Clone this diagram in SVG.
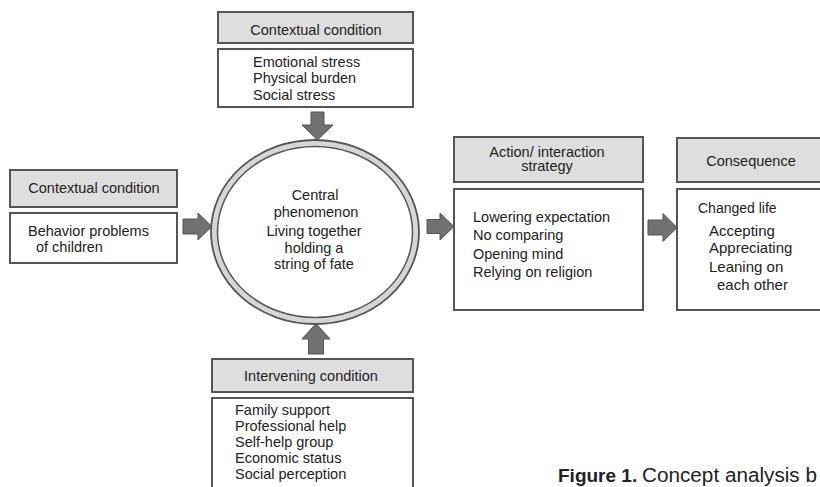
<svg xmlns="http://www.w3.org/2000/svg" width="820" height="487" viewBox="0 0 820 487">
<style>
text{font-family:"Liberation Sans",Arial,sans-serif;font-size:14.5px;fill:#222}
.c{text-anchor:middle}
.hd{fill:#dedede;stroke:#555;stroke-width:2}
.bd{fill:#fff;stroke:#555;stroke-width:2}
.ar{fill:#717171;stroke:#555;stroke-width:1}
</style>
<rect width="820" height="487" fill="#fff"/>
<g id="connectors">
<path class="ar" d="M311,112 H324 V125 H333 L317.5,140 L302,125 H311 Z"/>
<path class="ar" d="M183,219 H198 V213 L212,226.5 L198,240 V234 H183 Z"/>
<path class="ar" d="M427,219.5 H440 V213 L454,226.5 L440,240 V233.5 H427 Z"/>
<path class="ar" d="M648,220 H663 V213.5 L677,227.5 L663,241.5 V235 H648 Z"/>
<path class="ar" d="M308.5,354 H323.5 V339 H330 L316,323.5 L302,339 H308.5 Z"/>
</g>
<g id="top-context">
<rect class="hd" x="218" y="12" width="195" height="31"/>
<text class="c" x="316" y="35">Contextual condition</text>
<rect class="bd" x="218" y="49" width="195" height="58"/>
<text x="253" y="67">Emotional stress</text>
<text x="253" y="83">Physical burden</text>
<text x="253" y="100">Social stress</text>
</g>
<g id="left-context">
<rect class="hd" x="10" y="170" width="167" height="37"/>
<text class="c" x="94" y="193">Contextual condition</text>
<rect class="bd" x="10" y="213" width="167" height="50"/>
<text x="28" y="236">Behavior problems</text>
<text x="36" y="252">of children</text>
</g>
<g id="central">
<ellipse cx="315" cy="232" rx="104" ry="92" fill="#d6d6d6" stroke="#555" stroke-width="1.8"/>
<ellipse cx="315" cy="232" rx="97.5" ry="85.5" fill="#fff" stroke="#555" stroke-width="1.5"/>
<text class="c" x="315" y="200">Central</text>
<text class="c" x="316" y="216.5">phenomenon</text>
<text class="c" x="314" y="236">Living together</text>
<text class="c" x="314" y="252.5">holding a</text>
<text class="c" x="314" y="269">string of fate</text>
</g>
<g id="action">
<rect class="hd" x="454" y="137" width="189" height="45"/>
<text class="c" x="547" y="156.5">Action/ interaction</text>
<text class="c" x="547" y="171">strategy</text>
<rect class="bd" x="454" y="189" width="189" height="121"/>
<text x="473" y="222">Lowering expectation</text>
<text x="473" y="240">No comparing</text>
<text x="473" y="259">Opening mind</text>
<text x="473" y="277">Relying on religion</text>
</g>
<g id="consequence">
<rect class="hd" x="677" y="138" width="160" height="44"/>
<text class="c" x="751" y="166">Consequence</text>
<rect class="bd" x="677" y="189" width="160" height="121"/>
<text x="698" y="213" style="font-size:14px">Changed life</text>
<text x="709" y="236" style="font-size:15px">Accepting</text>
<text x="709" y="253" style="font-size:15px">Appreciating</text>
<text x="709" y="271.5" style="font-size:15px">Leaning on</text>
<text x="717" y="290" style="font-size:15px">each other</text>
</g>
<g id="intervening">
<rect class="hd" x="212" y="359" width="201" height="33"/>
<text class="c" x="311" y="381">Intervening condition</text>
<rect class="bd" x="212" y="398" width="201" height="100"/>
<text x="235" y="415">Family support</text>
<text x="235" y="431">Professional help</text>
<text x="235" y="447">Self-help group</text>
<text x="235" y="463">Economic status</text>
<text x="235" y="478.5">Social perception</text>
</g>
<g id="caption">
<text x="558" y="482" style="font-size:19px;font-weight:bold">Figure 1.</text>
<text x="642" y="482" style="font-size:19.5px" textLength="175" lengthAdjust="spacingAndGlyphs">Concept analysis b</text>
</g>
</svg>
